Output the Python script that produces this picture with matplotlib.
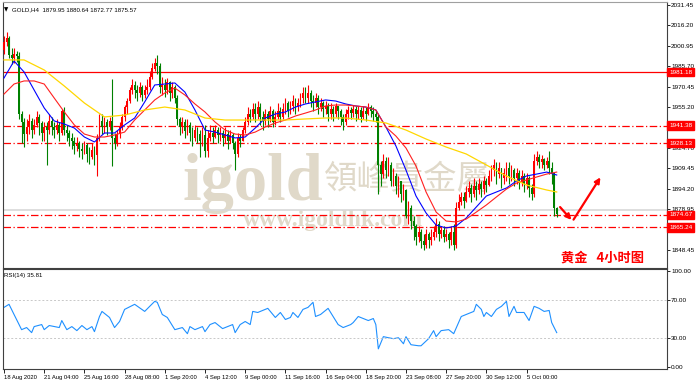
"""GOLD H4 candlestick chart with moving averages and RSI(14) pane."""

import matplotlib

matplotlib.use("Agg")
import matplotlib.pyplot as plt
import numpy as np
from matplotlib.transforms import blended_transform_factory

# ---- data ----------------------------------------------------------------
first_open = 1998.0
closes = [
    2004, 2007, 1994, 1992, 1995, 1993, 1950, 1944, 1935, 1940,
    1945, 1938, 1942, 1948, 1943, 1936, 1940, 1938, 1945, 1940,
    1938, 1942, 1936, 1952, 1938, 1936, 1932, 1930, 1926, 1928,
    1924, 1922, 1927, 1920, 1918, 1923, 1919, 1932, 1945, 1940,
    1944, 1940, 1945, 1932, 1928, 1935, 1940, 1948, 1955, 1960,
    1968, 1972, 1968, 1966, 1970, 1964, 1968, 1970, 1978, 1984,
    1988, 1986, 1970, 1972, 1968, 1974, 1966, 1970, 1962, 1946,
    1940, 1944, 1937, 1942, 1936, 1932, 1938, 1935, 1930, 1934,
    1922, 1932, 1936, 1933, 1938, 1934, 1936, 1932, 1935, 1930,
    1934, 1928, 1920, 1932, 1930, 1938, 1944, 1950, 1948, 1954,
    1950, 1955, 1948, 1945, 1950, 1946, 1952, 1944, 1948, 1952,
    1948, 1954, 1958, 1952, 1956, 1960, 1955, 1958, 1962, 1966,
    1962, 1966, 1960, 1958, 1962, 1955, 1958, 1954, 1956, 1950,
    1954, 1950, 1956, 1952, 1948, 1944, 1950, 1953, 1951, 1954,
    1950, 1953, 1948, 1952, 1950, 1955, 1952, 1950, 1948, 1912,
    1905, 1915, 1908, 1912, 1900, 1904, 1896, 1900, 1890, 1893,
    1874, 1880, 1870, 1866, 1858, 1862, 1855, 1852, 1860, 1856,
    1858, 1862, 1868, 1860, 1863, 1858, 1860, 1856, 1862, 1852,
    1880, 1884, 1888, 1885, 1892, 1895, 1890, 1896, 1893, 1898,
    1894, 1900, 1897, 1904, 1908, 1912, 1905, 1910, 1902, 1906,
    1910, 1904, 1908, 1902, 1906, 1900, 1904, 1898, 1902, 1895,
    1890, 1915, 1918, 1914, 1916, 1912, 1915, 1910, 1906, 1879.95, 1875.57,
]
highs = [
    2008, 2011, 2008, 1999, 1999, 1997, 1996, 1952, 1947, 1946,
    1950, 1947, 1946, 1952, 1950, 1945, 1944, 1944, 1950, 1948,
    1944, 1946, 1944, 1954, 1955, 1942, 1938, 1936, 1933, 1933,
    1930, 1928, 1930, 1928, 1925, 1928, 1926, 1935, 1950, 1950,
    1948, 1946, 1948, 1976, 1936, 1938, 1944, 1950, 1957, 1962,
    1970, 1976, 1975, 1972, 1974, 1972, 1972, 1976, 1982, 1988,
    1992, 1994, 1988, 1978, 1976, 1977, 1975, 1974, 1972, 1964,
    1948, 1948, 1946, 1946, 1944, 1940, 1942, 1940, 1938, 1940,
    1942, 1938, 1942, 1940, 1942, 1940, 1940, 1938, 1940, 1938,
    1938, 1936, 1930, 1936, 1935, 1940, 1948, 1955, 1954, 1958,
    1958, 1960, 1958, 1952, 1954, 1952, 1956, 1954, 1952, 1958,
    1955, 1958, 1962, 1960, 1960, 1964, 1962, 1962, 1966, 1970,
    1970, 1972, 1968, 1964, 1966, 1964, 1962, 1960, 1960, 1958,
    1958, 1956, 1958, 1956, 1954, 1950, 1954, 1956, 1955, 1957,
    1956, 1956, 1955, 1956, 1955, 1958, 1957, 1955, 1953, 1950,
    1915, 1920, 1918, 1918, 1914, 1910, 1906, 1904, 1900, 1898,
    1894, 1885, 1882, 1874, 1868, 1866, 1864, 1860, 1864, 1862,
    1864, 1866, 1872, 1870, 1866, 1866, 1864, 1862, 1866, 1868,
    1884, 1890, 1892, 1892, 1896, 1900, 1898, 1902, 1900, 1902,
    1900, 1904, 1902, 1908, 1912, 1916, 1914, 1914, 1910, 1910,
    1914, 1914, 1912, 1910, 1910, 1908, 1908, 1906, 1906, 1904,
    1898, 1920, 1922, 1920, 1919, 1917, 1918, 1922, 1914, 1906, 1880.64,
]
lows = [
    1995, 2001, 1992, 1987, 1988, 1989, 1946, 1928, 1925, 1930,
    1935, 1932, 1935, 1940, 1934, 1930, 1930, 1912, 1935, 1934,
    1932, 1935, 1930, 1934, 1934, 1930, 1926, 1924, 1920, 1922,
    1918, 1916, 1920, 1914, 1913, 1916, 1912, 1904, 1930, 1935,
    1936, 1934, 1938, 1911, 1924, 1926, 1932, 1938, 1945, 1950,
    1958, 1965, 1962, 1960, 1963, 1960, 1962, 1965, 1968, 1976,
    1982, 1980, 1966, 1964, 1963, 1965, 1960, 1962, 1958, 1942,
    1934, 1936, 1932, 1934, 1930, 1926, 1930, 1928, 1918, 1926,
    1918, 1918, 1930, 1928, 1932, 1928, 1930, 1926, 1928, 1924,
    1928, 1924, 1908, 1918, 1925, 1930, 1936, 1942, 1944, 1946,
    1944, 1946, 1942, 1938, 1942, 1940, 1944, 1940, 1942, 1946,
    1944, 1946, 1950, 1948, 1950, 1952, 1950, 1952, 1955, 1958,
    1958, 1958, 1955, 1952, 1955, 1950, 1952, 1948, 1950, 1945,
    1946, 1945, 1948, 1946, 1942, 1938, 1942, 1946, 1946, 1948,
    1945, 1946, 1944, 1946, 1945, 1949, 1948, 1945, 1944, 1890,
    1896, 1902, 1902, 1904, 1896, 1896, 1890, 1888, 1884, 1886,
    1872, 1868, 1864, 1856, 1852, 1854, 1850, 1848, 1850, 1850,
    1852, 1856, 1858, 1855, 1857, 1854, 1855, 1850, 1852, 1848,
    1850, 1878, 1882, 1880, 1884, 1888, 1884, 1888, 1886, 1890,
    1888, 1890, 1892, 1896, 1900, 1904, 1898, 1902, 1895, 1898,
    1900, 1898, 1900, 1896, 1898, 1894, 1896, 1892, 1894, 1888,
    1886, 1888, 1912, 1910, 1910, 1908, 1910, 1905, 1898, 1874, 1872.77,
]

# moving averages (read every 4 / 8 bars)
ma_fast = [
    1976.9, 1989.6, 1981.4, 1967.9, 1954.5, 1944.8, 1942.5, 1939.5, 1932.8, 1929.1,
    1935.8, 1935.8, 1941.8, 1947.0, 1959.0, 1971.7, 1972.4, 1973.2, 1966.4, 1953.0,
    1938.0, 1936.5, 1934.3, 1932.1, 1932.8, 1939.5, 1947.0, 1950.0, 1951.5, 1955.2,
    1957.5, 1959.0, 1960.5, 1959.7, 1957.5, 1956.0, 1955.2, 1953.0, 1940.3, 1926.1,
    1908.1, 1888.7, 1876.0, 1867.0, 1864.8, 1866.3, 1872.3, 1880.5, 1888.7, 1891.7,
    1894.7, 1899.9, 1903.7, 1905.1, 1906.6, 1904.4,
]
ma_mid = [
    1964.9, 1972.4, 1974.7, 1974.7, 1972.4, 1961.9, 1951.5, 1941.8, 1935.0, 1932.8,
    1932.8, 1934.3, 1936.5, 1945.5, 1953.0, 1960.5, 1965.7, 1969.4, 1964.2, 1957.5,
    1951.5, 1944.0, 1938.0, 1935.0, 1934.3, 1936.5, 1940.3, 1943.3, 1945.5, 1948.5,
    1950.7, 1953.0, 1956.0, 1956.7, 1956.7, 1956.0, 1955.2, 1953.0, 1940.3, 1933.5,
    1924.6, 1911.1, 1891.7, 1876.7, 1870.0, 1869.3, 1871.5, 1876.7, 1882.0, 1888.0,
    1893.9, 1898.4, 1900.7, 1902.9, 1905.1, 1906.6,
]
ma_slow = [
    1990.4, 1990.4, 1982.9, 1970.9, 1958.2, 1947.8, 1949.2, 1953.0, 1955.2, 1953.0,
    1947.0, 1945.5, 1945.5, 1945.5, 1945.5, 1946.3, 1947.0, 1947.0, 1945.5, 1943.3,
    1938.0, 1931.3, 1925.3, 1920.1, 1911.9, 1903.6, 1896.9, 1893.2, 1891.7,
]

rsi_bar = [
    0, 2, 3, 4, 6, 7, 9, 11, 12, 15, 16, 18, 22, 23, 25, 27, 29, 31, 33, 35,
    36, 38, 39, 42, 44, 46, 48, 52, 56, 58, 60, 61, 63, 65, 68, 71, 73, 74, 76, 79,
    80, 82, 84, 87, 89, 91, 92, 94, 96, 98, 99, 101, 105, 108, 110, 112, 114, 115, 117, 119,
    121, 123, 124, 126, 129, 131, 133, 135, 138, 139, 141, 143, 145, 147, 148, 149, 151, 153, 155, 157,
    159, 160, 162, 165, 166, 169, 171, 172, 174, 177, 179, 182, 185, 187, 188, 190, 191, 192, 194, 196,
    198, 200, 201, 203, 204, 207, 209, 211, 213, 215, 217, 218, 220,
]
rsi_val = [
    62.1, 65.3, 60.0, 54.7, 44.2, 38.9, 41.1, 35.8, 42.1, 44.2, 38.9, 43.2, 41.1, 48.4, 38.9, 42.1, 37.9, 43.2, 38.9, 42.1,
    36.8, 52.6, 57.9, 51.6, 41.1, 47.4, 60.0, 65.3, 57.9, 63.2, 68.4, 67.4, 54.7, 51.6, 38.9, 41.1, 34.7, 42.1, 38.9, 42.1,
    36.8, 44.2, 46.3, 40.0, 42.1, 44.2, 35.8, 44.2, 47.4, 44.2, 57.9, 56.8, 61.1, 51.6, 56.8, 49.5, 51.6, 56.8, 51.6, 60.0,
    62.1, 67.4, 52.6, 54.7, 61.1, 52.6, 44.2, 41.1, 44.2, 46.3, 52.6, 50.5, 48.4, 50.5, 44.2, 18.9, 31.6, 30.5, 29.5, 30.5,
    24.2, 31.6, 23.2, 22.1, 22.1, 29.5, 37.9, 31.6, 37.9, 38.9, 34.7, 52.6, 55.8, 57.9, 65.3, 60.0, 52.6, 56.8, 52.6, 60.0,
    63.2, 68.4, 52.6, 63.2, 56.8, 56.8, 48.4, 63.2, 61.1, 57.9, 58.9, 46.3, 35.81,
]

tick_labels = [
    "18 Aug 2020", "21 Aug 04:00", "25 Aug 16:00", "28 Aug 08:00", "1 Sep 20:00",
    "4 Sep 12:00", "9 Sep 00:00", "11 Sep 16:00", "16 Sep 04:00", "18 Sep 20:00",
    "23 Sep 08:00", "27 Sep 20:00", "30 Sep 12:00", "5 Oct 00:00",
]
price_ticks = [2031.45, 2016.20, 2000.95, 1985.70, 1970.45, 1955.20, 1939.95,
               1924.70, 1909.45, 1894.20, 1878.95, 1863.70, 1848.45]
hidden_ticks = [1939.95, 1863.70]  # covered by the red level boxes
resistance_solid = 1981.18
levels_dashed = [1941.38, 1928.13, 1874.67, 1865.24]
gray_line = 1878.5
arrow_x = [220.6, 226.6, 238.0]
arrow_y = [1882.0, 1869.3, 1904.4]

UP = "#ff0000"
DOWN = "#008000"
FONT = "Liberation Sans"


def draw_candles(ax):
    c = np.asarray(closes, dtype=float)
    o = np.concatenate([[first_open], c[:-1]])
    h = np.asarray(highs, dtype=float)
    lo = np.asarray(lows, dtype=float)
    x = np.arange(len(c))
    colors = np.where(c >= o, UP, DOWN)
    ax.vlines(x, lo, h, colors=colors, lw=0.8, zorder=3)
    bottom = np.minimum(o, c)
    height = np.maximum(np.abs(c - o), 0.5)
    ax.bar(x, height, bottom=bottom, width=0.7, color=colors, lw=0, zorder=3)


def main():
    fig = plt.figure(figsize=(7.0, 3.84), dpi=100)
    ax = fig.add_axes([3 / 700, 1 - 268 / 384, 664 / 700, 266 / 384])
    ax_rsi = fig.add_axes([3 / 700, 1 - 369 / 384, 664 / 700, 100 / 384])

    n = len(closes)
    xlim = (-0.4, 263.9)

    # watermark
    wm = "#e0d9c9"
    ax.text(0.271, 0.256, "igold", transform=ax.transAxes, fontsize=48, color=wm,
            family="Liberation Serif", weight="bold", va="baseline", zorder=1)
    ax.text(0.483, 0.335, "領峰貴金屬", transform=ax.transAxes, fontsize=24, color=wm,
            family="Noto Sans CJK TC", va="center", zorder=1)
    ax.text(0.362, 0.178, "www.igoldhk.com", transform=ax.transAxes, fontsize=17, color=wm,
            family="Liberation Serif", weight="bold", va="center", zorder=1)

    draw_candles(ax)
    ax.plot(range(0, n, 4), ma_fast, color="#0000ff", lw=0.8, zorder=4)
    ax.plot(range(0, n, 4), ma_mid, color="#ff2020", lw=0.8, zorder=4)
    ax.plot(list(range(0, 217, 8)) + [220], ma_slow, color="#ffd700", lw=0.9, zorder=4)

    ax.axhline(gray_line, color="#d8d8d8", lw=1.2, zorder=2)
    ax.axhline(resistance_solid, color=UP, lw=0.9, zorder=2)
    for lv in levels_dashed:
        ax.axhline(lv, color=UP, lw=0.9, ls=(0, (6, 2, 1, 2)), zorder=2)

    # red arrows
    ax.annotate("", xy=(arrow_x[1], arrow_y[1]), xytext=(arrow_x[0], arrow_y[0]),
                arrowprops=dict(arrowstyle="-|>", color=UP, lw=1.6, mutation_scale=8))
    ax.annotate("", xy=(arrow_x[2], arrow_y[2]), xytext=(arrow_x[1] - 0.5, arrow_y[1]),
                arrowprops=dict(arrowstyle="-|>", color=UP, lw=1.6, mutation_scale=8))

    ax.set_xlim(*xlim)
    ax.set_ylim(1834.9, 2033.7)
    ax.yaxis.tick_right()
    ax.set_yticks(price_ticks, ["" if v in hidden_ticks else f"{v:.2f}" for v in price_ticks])
    ax.tick_params(axis="y", length=2, width=0.6, pad=1, labelsize=4.6)
    for lab in ax.get_yticklabels():
        lab.set_family(FONT)
    ax.set_xticks([])
    for side in ("left", "bottom", "right"):
        ax.spines[side].set_color("#404040")
        ax.spines[side].set_linewidth(0.8)
    ax.spines["top"].set_color("#a0a0a0")

    trans = blended_transform_factory(ax.transAxes, ax.transData)
    for lv in [resistance_solid] + levels_dashed:
        ax.text(1.003, lv, f"{lv:.2f}", transform=trans, color="white", va="center", ha="left",
                zorder=10, clip_on=False, fontsize=4.6, family=FONT,
                bbox=dict(boxstyle="square,pad=0.25", fc=UP, ec=UP))

    ax.text(0.002, 0.972, "\u25bc", transform=ax.transAxes, va="center", ha="left",
            fontsize=4, family="DejaVu Sans")
    ax.text(0.013, 0.972, "GOLD,H4  1879.95 1880.64 1872.77 1875.57", transform=ax.transAxes,
            va="center", ha="left", fontsize=4.4, family=FONT)
    ax.text(0.840, 0.040, "黄金   4小时图", transform=ax.transAxes, color=UP, fontsize=9.5,
            family=["Noto Sans CJK SC", "DejaVu Sans"], weight="bold", va="center", ha="left")

    # RSI pane
    ax_rsi.plot(rsi_bar, rsi_val, color="#1e90ff", lw=0.8)
    for lv in (70, 30):
        ax_rsi.axhline(lv, color="#c8c8c8", lw=0.7, ls=(0, (2, 2)))
    ax_rsi.set_xlim(*xlim)
    ax_rsi.set_ylim(-2.1, 102.1)
    ax_rsi.yaxis.tick_right()
    ax_rsi.set_yticks([100, 70, 30, 0], ["100.00", "70.00", "30.00", "0.00"])
    ax_rsi.tick_params(axis="y", length=2, width=0.6, pad=1, labelsize=4.6)
    ax_rsi.set_xticks(range(0, 16 * len(tick_labels), 16), tick_labels)
    ax_rsi.tick_params(axis="x", length=3, width=0.6, pad=1, labelsize=4.2)
    for lab in ax_rsi.get_xticklabels():
        lab.set_horizontalalignment("left")
        lab.set_family(FONT)
    for lab in ax_rsi.get_yticklabels():
        lab.set_family(FONT)
    for side in ("left", "bottom", "right", "top"):
        ax_rsi.spines[side].set_color("#404040")
        ax_rsi.spines[side].set_linewidth(0.8)
    ax_rsi.text(0.002, 0.94, "RSI(14) 35.81", transform=ax_rsi.transAxes, va="center", ha="left",
                fontsize=4.4, family=FONT)

    fig.savefig("out.png", dpi=100)
    plt.close(fig)


if __name__ == "__main__":
    main()
